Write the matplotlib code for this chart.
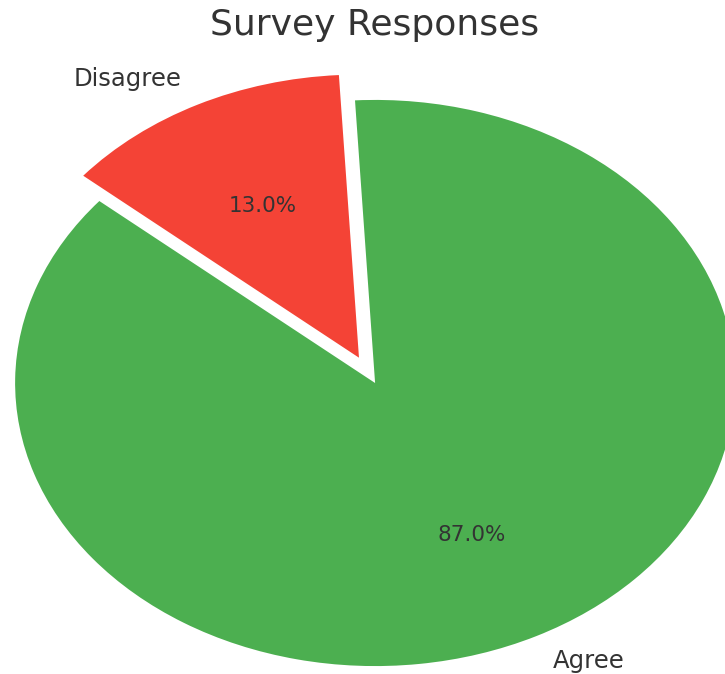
import matplotlib
matplotlib.use('Agg')
import matplotlib.pyplot as plt

labels = ['Agree', 'Disagree']
sizes = [87, 13]
colors = ['#4CAF50', '#F44336']
explode = [0, 0.1]

fig = plt.figure(figsize=(7.25, 6.74), dpi=100)
ax = fig.add_axes([0, 0, 1, 1])

wedges, texts, autotexts = ax.pie(sizes, labels=labels, colors=colors, explode=explode,
                                  autopct='%1.1f%%', startangle=140,
                                  textprops={'color': '#333333', 'fontsize': 17.5})
for t in autotexts:
    t.set_fontsize(15.5)

# stretched pie like the reference
ax.set_aspect('auto')
ax.set_xlim(-1.042, 0.972)
ax.set_ylim(-1.028, 1.353)

fig.text(0.517, 1 - 25 / 674, 'Survey Responses', ha='center', va='center',
         fontsize=26, color='#333333')

fig.savefig('out.png', dpi=100)
